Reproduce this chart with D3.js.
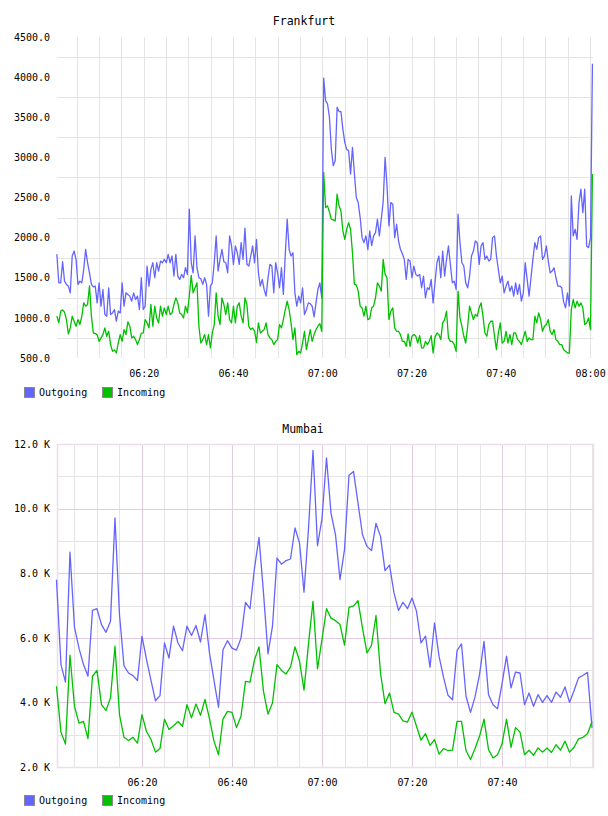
<!DOCTYPE html>
<html>
<head>
<meta charset="utf-8">
<script src="https://cdn.jsdelivr.net/npm/d3@7"></script>
<style>
  body { margin: 0; background: #fff; }
  text { font-family: "DejaVu Sans Mono", monospace; }
</style>
</head>
<body>
<div id="chart"></div>
<script>
// ---------------------------------------------------------------------
// DATA
// ---------------------------------------------------------------------
const seriesNames = ["Outgoing", "Incoming"];

// Frankfurt, one sample about every 26 s
const frankfurtStart = "06:00:33";
const frankfurtStepSec = 25.8;
const frankfurtOutgoing = [
  1792,1437,1437,1700,1458,1417,1396,1312,1771,1833,
  1729,1417,1458,1437,1604,1854,1687,1562,1417,1387,
  1396,1187,1437,1146,1354,1042,1021,1375,1042,1062,
  1104,958,1083,1062,1437,1146,1312,1292,1271,1208,
  1312,1229,1271,1104,1500,1104,1146,1646,1396,1604,
  1687,1500,1687,1583,1708,1687,1729,1687,1792,1687,
  1771,1521,1792,1521,1479,1542,1500,1625,1542,2354,
  1687,1562,2021,1625,1500,1487,1417,1500,1417,1021,
  1396,1437,1687,2021,1583,1729,1854,1700,1687,1562,
  2021,1896,1667,1896,1812,1667,1937,1729,2117,1667,
  1646,1771,1896,1687,1979,1562,1396,1479,1354,1271,
  1500,1667,1646,1312,1687,1562,1375,1625,1292,1792,
  2229,1854,1771,1812,1312,1146,1271,1187,1375,1042,
  1100,1187,1179,1146,1012,1187,1354,1437,1250,
  3987,3708,3667,3500,3100,2896,2958,3625,3571,3571,
  3350,3187,3100,3083,2792,3125,2800,2500,2437,2250,
  2000,1937,2021,1850,2083,1900,2021,2062,2229,2021,
  2229,2450,3000,2646,2146,2437,2417,2000,2167,1958,
  1854,1800,1729,1479,1729,1708,1500,1646,1542,1521,
  1542,1375,1521,1250,1375,1354,1479,1187,1437,1687,
  1771,1500,1833,1521,1729,1896,1667,1437,1458,1354,
  2292,1937,1687,1646,1437,1375,1521,1771,1833,1958,
  1937,1667,1896,1937,1729,1771,1708,1729,2000,2021,
  1771,1604,1437,1521,1312,1396,1458,1333,1396,1271,
  1437,1292,1417,1208,1312,1687,1479,1271,1500,1729,
  1937,1854,2000,2021,1729,1771,1896,1708,1562,1583,
  1625,1500,1396,1396,1375,1200,1125,1312,1146,2521,
  2021,2104,1979,2437,2604,2312,2604,1896,1875,2000,
  4167
];
const frankfurtIncoming = [
  1021,937,1083,1100,1071,979,800,875,1021,958,
  896,979,917,1020,1187,1146,1167,1400,1021,812,
  804,792,708,750,792,875,771,833,667,583,
  600,562,687,792,708,854,792,950,896,750,
  771,729,667,729,810,812,979,937,875,1167,
  896,1146,1000,937,1146,1021,1125,1042,1146,1042,
  1062,1167,1250,1187,1062,1042,1000,1146,1062,1271,
  1529,1312,1375,1437,896,687,729,792,667,792,
  625,812,917,1312,1021,917,1250,1167,1042,1187,
  979,937,1146,937,1146,1187,1021,937,1250,1167,
  896,854,875,833,696,937,812,833,854,937,
  792,750,729,667,708,729,917,875,979,1104,
  1208,1104,937,729,875,542,583,562,687,833,
  604,729,854,708,792,854,896,929,833,
  2812,2375,2396,2320,2229,2221,2208,2542,2396,2333,
  2083,1979,2104,2187,2104,1812,1417,1410,1333,1146,
  1125,1021,1146,979,990,1125,1146,1250,1437,1396,
  1333,1729,1542,1500,979,1083,1125,875,833,833,
  792,708,708,646,800,646,771,792,771,687,
  779,625,625,708,667,708,779,562,760,812,
  792,729,937,979,1083,750,708,708,667,583,
  1333,1000,896,771,687,896,1146,1062,979,1042,
  1021,1125,1187,1021,812,771,917,958,958,771,
  604,812,937,687,708,833,687,792,667,812,
  812,729,708,667,750,833,708,750,729,729,
  1021,937,1062,979,833,896,917,979,833,792,
  854,729,708,667,667,604,583,562,562,1104,
  1229,1125,1208,1146,1187,1125,917,937,1000,854,
  2792
];
const frankfurtYTicks = [500,1000,1500,2000,2500,3000,3500,4000,4500];
const frankfurtTimeLabels = ["06:20","06:40","07:00","07:20","07:40","08:00"];

// Mumbai, one sample per minute, values in K
const mumbaiStart = "06:01:00";
const mumbaiStepSec = 60;
const mumbaiOutgoing = [
  7.80,5.17,4.63,8.65,6.33,5.68,5.17,4.81,6.85,6.90,
  6.41,6.17,6.51,9.71,6.72,5.14,4.91,4.83,4.68,6.05,
  5.33,4.68,4.05,4.21,5.84,5.37,6.36,5.84,5.60,6.36,
  6.07,6.38,5.87,6.72,5.53,4.68,3.85,5.63,5.91,5.68,
  5.62,5.99,7.10,6.90,8.16,9.11,7.39,5.50,6.36,8.47,
  8.28,8.39,8.44,9.40,8.94,7.41,9.38,11.80,8.85,9.70,
  11.57,9.86,9.19,7.80,8.73,11.03,11.15,10.17,9.19,8.83,
  8.70,9.54,9.14,8.08,8.25,7.39,6.85,7.10,6.90,7.23,
  6.82,5.84,6.05,5.09,6.46,5.43,4.78,4.22,4.08,5.60,
  5.81,4.19,3.69,4.17,4.86,5.89,4.24,3.93,3.80,4.57,
  5.43,4.45,4.94,4.91,3.93,4.29,3.88,4.24,4.00,4.21,
  4.00,4.32,4.16,4.48,4.00,4.36,4.76,4.84,4.93,3.21
];
const mumbaiIncoming = [
  4.50,3.08,2.71,5.46,3.88,3.36,3.41,2.88,4.81,4.99,
  3.93,3.75,4.14,5.74,3.62,2.92,2.82,2.92,2.74,3.62,
  3.10,2.85,2.46,2.57,3.48,3.16,3.28,3.41,3.26,3.93,
  3.52,3.95,3.60,4.09,3.50,2.80,2.38,3.48,3.72,3.69,
  3.22,3.57,4.65,4.63,5.32,5.72,4.34,3.64,3.98,5.17,
  4.99,4.88,5.09,5.72,5.29,4.38,5.81,7.13,5.04,5.95,
  6.90,6.61,6.53,6.41,5.77,6.94,6.99,7.15,6.30,5.53,
  5.77,6.69,4.91,3.96,4.29,3.69,3.64,3.43,3.39,3.70,
  3.26,2.83,3.03,2.67,2.85,2.40,2.57,2.51,2.52,3.41,
  3.41,2.51,2.23,2.57,2.95,3.48,2.54,2.28,2.38,2.71,
  3.48,2.61,3.22,3.08,2.38,2.52,2.36,2.59,2.46,2.59,
  2.45,2.69,2.52,2.80,2.46,2.61,2.87,2.92,3.03,3.41
];
const mumbaiYTicks = [2,4,6,8,10,12];
const mumbaiTimeLabels = ["06:20","06:40","07:00","07:20","07:40"];

// ---------------------------------------------------------------------
// DRAWING
// ---------------------------------------------------------------------
const colors = ["#6464ff", "#00c000"];
const parseT = d3.timeParse("%H:%M:%S");
const parseHM = d3.timeParse("%H:%M");

const svg = d3.select("#chart")
  .append("svg")
  .attr("width", 608)
  .attr("height", 816);

function drawPanel(p) {
  const g = svg.append("g");
  const left = 57, right = 593;

  const x = d3.scaleTime().domain(p.xDomain).range([left, right]);
  const y = d3.scaleLinear().domain(p.yDomain).range([p.bottom, p.top]);
  const t0 = parseT(p.start);
  const timeOf = i => new Date(t0.getTime() + i * p.stepSec * 1000);

  const crisp = v => Math.round(v) + 0.5;

  // minor vertical grid, every 5 minutes
  g.append("g").selectAll("line")
    .data(d3.timeMinute.every(5).range(p.xDomain[0], p.xDomain[1]))
    .join("line")
      .attr("x1", d => crisp(x(d))).attr("x2", d => crisp(x(d)))
      .attr("y1", p.top).attr("y2", p.bottom)
      .attr("stroke", p.minorColor);

  // minor horizontal grid
  g.append("g").selectAll("line")
    .data(p.minorY)
    .join("line")
      .attr("x1", left).attr("x2", right)
      .attr("y1", d => crisp(y(d))).attr("y2", d => crisp(y(d)))
      .attr("stroke", p.minorColor);

  if (p.majorColor) {
    // major grid (20 minutes / labelled values) and frame
    g.append("g").selectAll("line")
      .data(p.timeLabels.map(parseHM))
      .join("line")
        .attr("x1", d => crisp(x(d))).attr("x2", d => crisp(x(d)))
        .attr("y1", p.top).attr("y2", p.bottom)
        .attr("stroke", p.majorColor);
    g.append("g").selectAll("line")
      .data(p.yTicks)
      .join("line")
        .attr("x1", left).attr("x2", right)
        .attr("y1", d => crisp(y(d))).attr("y2", d => crisp(y(d)))
        .attr("stroke", p.majorColor);
    g.append("rect")
      .attr("x", left + 0.5).attr("y", p.top + 0.5)
      .attr("width", right - left).attr("height", p.bottom - p.top)
      .attr("fill", "none")
      .attr("stroke", p.frameColor)
      .attr("stroke-width", 1.5);
  }

  // Y axis labels
  const yAxis = g.append("g")
    .attr("transform", `translate(${left},0)`)
    .call(d3.axisLeft(y).tickValues(p.yTicks).tickFormat(p.yFormat).tickSize(0).tickPadding(7));
  yAxis.select(".domain").remove();
  yAxis.selectAll("text").attr("font-size", 10).attr("fill", "#000")
    .attr("font-family", "DejaVu Sans Mono");

  // X axis labels
  const xAxis = g.append("g")
    .attr("transform", `translate(0,${p.bottom})`)
    .call(d3.axisBottom(x).tickValues(p.timeLabels.map(parseHM))
      .tickFormat(d3.timeFormat("%H:%M")).tickSize(0).tickPadding(12));
  xAxis.select(".domain").remove();
  xAxis.selectAll("text").attr("font-size", 10).attr("fill", "#000")
    .attr("font-family", "DejaVu Sans Mono");

  // lines
  const line = d3.line()
    .x((d, i) => x(timeOf(i)))
    .y(d => y(d));
  g.append("g").selectAll("path")
    .data(p.series)
    .join("path")
      .attr("fill", "none")
      .attr("stroke", (d, i) => colors[i])
      .attr("stroke-width", 1.3)
      .attr("stroke-linejoin", "round")
      .attr("d", d => line(d));

  // title
  g.append("text")
    .attr("x", p.titleX).attr("y", p.titleY)
    .attr("text-anchor", "middle")
    .attr("font-size", 11.5)
    .attr("fill", "#000")
    .text(p.title);

  // legend
  const lg = g.append("g").selectAll("g")
    .data(seriesNames)
    .join("g")
      .attr("transform", (d, i) => `translate(${24 + i * 78},${p.legendY})`);
  lg.append("rect")
    .attr("x", 0.5).attr("y", 0.5)
    .attr("width", 10).attr("height", 10)
    .attr("fill", (d, i) => colors[i])
    .attr("stroke", "#8a8a8a");
  lg.append("text")
    .attr("x", 15).attr("y", 9)
    .attr("font-family", "Liberation Mono")
    .attr("font-size", 10)
    .attr("fill", "#000")
    .text(d => d);
}

drawPanel({
  title: "Frankfurt", titleX: 304, titleY: 25,
  top: 37, bottom: 358, legendY: 387,
  xDomain: [parseT("06:00:35"), parseT("08:00:39")],
  yDomain: [500, 4500],
  yTicks: frankfurtYTicks,
  minorY: d3.pairs(frankfurtYTicks).map(([a, b]) => (a + b) / 2),
  yFormat: d => d.toFixed(1),
  timeLabels: frankfurtTimeLabels,
  start: frankfurtStart, stepSec: frankfurtStepSec,
  series: [frankfurtOutgoing, frankfurtIncoming],
  minorColor: "#e4e4e4"
});

drawPanel({
  title: "Mumbai", titleX: 303, titleY: 433,
  top: 444, bottom: 767, legendY: 795,
  xDomain: [parseT("06:01:07"), parseT("08:00:13")],
  yDomain: [2, 12],
  yTicks: mumbaiYTicks,
  minorY: d3.range(3, 12, 2),
  yFormat: d => d.toFixed(1) + " K",
  timeLabels: mumbaiTimeLabels,
  start: mumbaiStart, stepSec: mumbaiStepSec,
  series: [mumbaiOutgoing, mumbaiIncoming],
  minorColor: "#e4e4e4",
  majorColor: "#e2cce2",
  frameColor: "#ecdcec"
});
</script>
</body>
</html>
